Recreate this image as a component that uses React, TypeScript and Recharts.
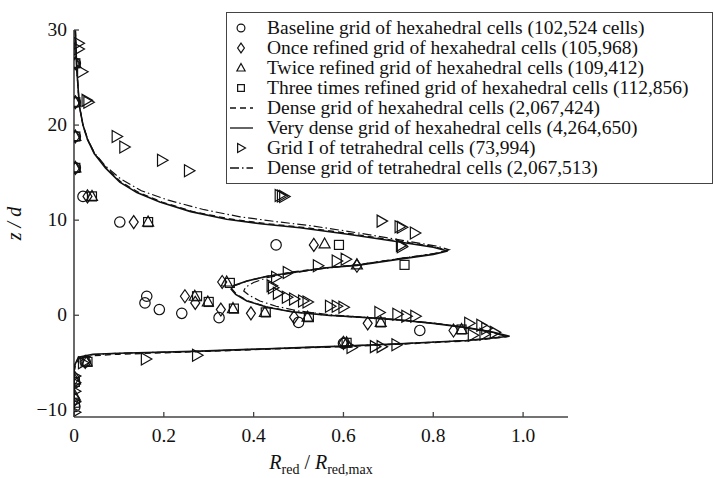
import React from "react";
import { ScatterChart, Scatter, XAxis, YAxis, Legend, Label } from "recharts";

type Pt = [number, number];

const xTicks = [0, 0.2, 0.4, 0.6, 0.8, 1.0];
const zTicks = [-10, 0, 10, 20, 30];

const legendLabels = [
   "Baseline grid of hexahedral cells (102,524 cells)",
   "Once refined grid of hexahedral cells (105,968)",
   "Twice refined grid of hexahedral cells (109,412)",
   "Three times refined grid of hexahedral cells (112,856)",
   "Dense grid of hexahedral cells (2,067,424)",
   "Very dense grid of hexahedral cells (4,264,650)",
   "Grid I of tetrahedral cells (73,994)",
   "Dense grid of tetrahedral cells (2,067,513)",
];

// markers, [R_red/R_red,max, z/d]
const baseline: Pt[] = [
   [0.003, 26.5], [0.003, 22.4], [0.003, 18.8], [0.003, 15.5], [0.02, 12.5],
   [0.102, 9.8], [0.45, 7.4], [0.162, 2.0], [0.158, 1.3], [0.19, 0.6],
   [0.24, 0.2], [0.323, -0.25], [0.5, -0.75], [0.77, -1.6], [0.6, -2.95],
   [0.025, -4.9], [0.002, -7.1], [0.002, -9.6],
];
const onceRefined: Pt[] = [
   [0.003, 26.5], [0.003, 22.4], [0.003, 18.8], [0.003, 15.5], [0.03, 12.5],
   [0.133, 9.8], [0.534, 7.4], [0.63, 5.2], [0.33, 3.5], [0.247, 2.0],
   [0.27, 1.3], [0.327, 0.6], [0.394, 0.2], [0.49, -0.2], [0.654, -0.85],
   [0.845, -1.6], [0.6, -2.9], [0.025, -4.9], [0.002, -6.6], [0.002, -8.8],
];
const twiceRefined: Pt[] = [
   [0.003, 26.5], [0.003, 22.4], [0.003, 18.8], [0.003, 15.5], [0.04, 12.5],
   [0.165, 9.8], [0.558, 7.5], [0.63, 5.3], [0.34, 3.5], [0.269, 2.0],
   [0.298, 1.4], [0.354, 0.7], [0.425, 0.3], [0.52, -0.2], [0.683, -0.75],
   [0.863, -1.5], [0.607, -2.9], [0.028, -4.9], [0.002, -6.8], [0.002, -8.5],
];
const threeTimes: Pt[] = [
   [0.003, 26.5], [0.003, 22.4], [0.003, 18.8], [0.003, 15.5], [0.04, 12.5],
   [0.165, 9.8], [0.59, 7.4], [0.736, 5.3], [0.347, 3.4], [0.274, 2.0],
   [0.3, 1.4], [0.356, 0.7], [0.427, 0.3], [0.523, -0.2], [0.683, -0.75],
   [0.863, -1.5], [0.607, -2.9], [0.03, -4.9], [0.002, -7.0], [0.002, -9.2],
];
const gridTetra: Pt[] = [
   [0.01, 28.6], [0.01, 28.0], [0.018, 25.6], [0.028, 22.6], [0.032, 22.4],
   [0.095, 18.8], [0.112, 17.7], [0.196, 16.3], [0.256, 15.2], [0.458, 12.6],
   [0.463, 12.55], [0.468, 12.5], [0.685, 9.9], [0.725, 9.3], [0.73, 9.25],
   [0.759, 8.65], [0.728, 7.35], [0.73, 7.2], [0.605, 5.9], [0.585, 5.7],
   [0.543, 5.2], [0.476, 4.5], [0.45, 4.0], [0.44, 3.1], [0.443, 2.9],
   [0.454, 2.3], [0.474, 1.9], [0.49, 1.7], [0.51, 1.5], [0.52, 1.4],
   [0.57, 0.95], [0.585, 0.95], [0.6, 0.85], [0.68, 0.3], [0.72, 0.1],
   [0.74, -0.1], [0.76, -0.1], [0.88, -0.85], [0.907, -1.05], [0.918, -1.4],
   [0.937, -1.8], [0.888, -2.1], [0.914, -2.0], [0.718, -3.1], [0.685, -3.3],
   [0.67, -3.3], [0.618, -3.4], [0.274, -4.2], [0.16, -4.6], [0.02, -5.0],
   [0.002, -6.4], [0.002, -7.1], [0.002, -8.0], [0.002, -9.1], [0.002, -10.2],
];

// profiles, traced top to bottom
const veryDense: Pt[] = [
   [0.003, 30], [0.006, 26], [0.012, 22], [0.02, 20], [0.03, 18.5],
   [0.045, 17], [0.07, 15.5], [0.102, 14], [0.14, 12.9], [0.191, 11.9],
   [0.26, 10.9], [0.34, 10.1], [0.42, 9.6], [0.503, 9.2], [0.614, 8.5],
   [0.725, 7.7], [0.8, 7.15], [0.832, 6.75], [0.8, 6.4], [0.725, 5.9],
   [0.63, 5.25], [0.563, 5.0], [0.487, 4.5], [0.43, 4.1], [0.385, 3.6],
   [0.355, 3.1], [0.35, 2.75], [0.36, 2.2], [0.385, 1.5], [0.43, 0.85],
   [0.487, 0.35], [0.563, 0.0], [0.636, -0.2], [0.725, -0.5], [0.8, -0.85],
   [0.874, -1.3], [0.93, -1.75], [0.97, -2.2], [0.932, -2.4], [0.874, -2.65],
   [0.725, -3.0], [0.6, -3.25], [0.503, -3.4], [0.265, -3.8], [0.1, -4.0],
   [0.042, -4.1], [0.01, -4.4], [0.002, -5.2], [0, -6], [0, -10.7],
];
const denseHexa: Pt[] = [
   [0.003, 30], [0.006, 26], [0.012, 22], [0.02, 20], [0.03, 18.5],
   [0.046, 17], [0.072, 15.5], [0.105, 14], [0.145, 12.9], [0.196, 11.9],
   [0.265, 10.9], [0.345, 10.15], [0.425, 9.65], [0.51, 9.25], [0.62, 8.55],
   [0.73, 7.75], [0.805, 7.2], [0.83, 6.8], [0.8, 6.45], [0.725, 5.95],
   [0.63, 5.3], [0.563, 5.0], [0.487, 4.55], [0.43, 4.1], [0.385, 3.6],
   [0.357, 3.1], [0.352, 2.75], [0.362, 2.2], [0.387, 1.5], [0.432, 0.85],
   [0.49, 0.35], [0.565, 0.0], [0.64, -0.22], [0.73, -0.52], [0.805, -0.87],
   [0.875, -1.32], [0.93, -1.78], [0.965, -2.25], [0.93, -2.45], [0.874, -2.7],
   [0.725, -3.05], [0.6, -3.3], [0.503, -3.45], [0.265, -3.85], [0.1, -4.1],
   [0.042, -4.25], [0.012, -4.55], [0.003, -5.3], [0, -6], [0, -10.7],
];
const denseTetra: Pt[] = [
   [0.003, 30], [0.006, 26], [0.012, 22], [0.02, 20], [0.03, 18.6],
   [0.045, 17.1], [0.07, 15.7], [0.105, 14.3], [0.15, 13.1], [0.21, 12.1],
   [0.29, 11.1], [0.37, 10.35], [0.45, 9.85], [0.53, 9.4], [0.64, 8.6],
   [0.74, 7.8], [0.81, 7.25], [0.835, 6.9], [0.81, 6.55], [0.73, 6.0],
   [0.64, 5.35], [0.56, 4.95], [0.48, 4.4], [0.43, 3.95], [0.4, 3.45],
   [0.382, 2.95], [0.378, 2.55], [0.39, 2.1], [0.414, 1.5], [0.45, 0.95],
   [0.5, 0.45], [0.57, 0.05], [0.64, -0.2], [0.73, -0.5], [0.805, -0.85],
   [0.875, -1.3], [0.925, -1.75], [0.96, -2.2], [0.925, -2.42], [0.874, -2.65],
   [0.725, -3.0], [0.6, -3.25], [0.503, -3.4], [0.265, -3.8], [0.1, -4.0],
   [0.042, -4.15], [0.01, -4.45], [0.002, -5.2], [0, -6], [0, -10.7],
];

const toRows = (pts: Pt[]) => pts.map(([x, z]) => ({ x, z }));

const FONT = "'Liberation Serif', 'Times New Roman', serif";
const INK = "#111";

type Kind = "circle" | "diamond" | "triangle" | "square" | "right";

function Marker({ cx, cy, kind, s = 1 }: { cx: number; cy: number; kind: Kind; s?: number }) {
   if (cx == null || cy == null) return null;
   const st = { fill: "none", stroke: INK, strokeWidth: 1.2 };
   if (kind === "circle") return <circle cx={cx} cy={cy} r={5.2 * s} {...st} />;
   if (kind === "square")
      return <rect x={cx - 4.5 * s} y={cy - 4.5 * s} width={9 * s} height={9 * s} {...st} />;
   let pts = "";
   if (kind === "diamond")
      pts = `${cx},${cy - 6.5 * s} ${cx + 4.5 * s},${cy} ${cx},${cy + 6.5 * s} ${cx - 4.5 * s},${cy}`;
   if (kind === "triangle")
      pts = `${cx},${cy - 6 * s} ${cx + 5.5 * s},${cy + 4 * s} ${cx - 5.5 * s},${cy + 4 * s}`;
   if (kind === "right")
      pts = `${cx - 4.5 * s},${cy - 6 * s} ${cx + 6 * s},${cy} ${cx - 4.5 * s},${cy + 6 * s}`;
   return <polygon points={pts} {...st} />;
}

const markerKinds: Kind[] = ["circle", "diamond", "triangle", "square"];
const DASH = "6 4";
const DASHDOT = "9 3 1.5 3";

function LegendBox() {
   const rows = legendLabels.map((label, i) => {
      let sym: React.ReactNode = null;
      if (i < 4) sym = <Marker cx={14} cy={10} kind={markerKinds[i]} s={0.75} />;
      if (i === 6) sym = <Marker cx={14} cy={10} kind="right" s={0.75} />;
      if (i === 4 || i === 5 || i === 7)
         sym = (
            <line
               x1={3}
               x2={26}
               y1={10}
               y2={10}
               stroke={INK}
               strokeWidth={1.3}
               strokeDasharray={i === 4 ? DASH : i === 7 ? DASHDOT : undefined}
            />
         );
      return (
         <div key={label} style={{ position: "absolute", left: 0, top: 5 + i * 20, height: 20, width: 480 }}>
            <svg width={30} height={20} style={{ position: "absolute", left: 0, top: 0 }}>
               {sym}
            </svg>
            <span
               style={{
                  position: "absolute",
                  left: 40,
                  top: 0,
                  lineHeight: "20px",
                  fontSize: 19.5,
                  fontFamily: FONT,
                  color: INK,
                  whiteSpace: "nowrap",
               }}
            >
               {label}
            </span>
         </div>
      );
   });
   return (
      <div
         style={{
            position: "relative",
            width: 487,
            height: 172,
            boxSizing: "border-box",
            border: "1.5px solid #444",
            background: "#fff",
         }}
      >
         {rows}
      </div>
   );
}

function XTick(props: any) {
   const { x, y, payload } = props;
   const v = payload.value as number;
   return (
      <g>
         <line x1={x} x2={x} y1={y} y2={y - 5} stroke="#444" strokeWidth={1.3} />
         <text x={x} y={y + 25} textAnchor="middle" fontFamily={FONT} fontSize={19.5} fill={INK}>
            {v === 0 ? "0" : v.toFixed(1)}
         </text>
      </g>
   );
}

function YTick(props: any) {
   const { x, y, payload } = props;
   const v = payload.value as number;
   return (
      <g>
         <line x1={x} x2={x + 5} y1={y} y2={y} stroke="#444" strokeWidth={1.3} />
         <text x={x - 7} y={y + 6} textAnchor="end" fontFamily={FONT} fontSize={19.5} fill={INK}>
            {String(v).replace("-", "\u2212")}
         </text>
      </g>
   );
}

const none = () => <g />;

export default function App() {
   return (
      <div style={{ position: "absolute", left: 0, top: 0, width: 714, height: 478, background: "#fff" }}>
         <ScatterChart
            width={714}
            height={478}
            margin={{ top: 30, right: 146, bottom: 11, left: 14 }}
         >
            <XAxis
               type="number"
               dataKey="x"
               domain={[0, 1.1]}
               ticks={xTicks}
               allowDataOverflow
               height={50}
               tickSize={0}
               tickMargin={0}
               tickLine={false}
               tick={<XTick />}
               axisLine={{ stroke: "#444", strokeWidth: 1.6 }}
            >
               <Label
                  content={(p: any) => {
                     const vb = p.viewBox || {};
                     const cx = vb.x + vb.width / 2;
                     return (
                        <text x={cx} y={469} textAnchor="middle" fontFamily={FONT} fontSize={20} fill={INK}>
                           <tspan fontStyle="italic">R</tspan>
                           <tspan fontSize={14} dy={5}>red</tspan>
                           <tspan dy={-5}> / </tspan>
                           <tspan fontStyle="italic">R</tspan>
                           <tspan fontSize={14} dy={5}>red,max</tspan>
                        </text>
                     );
                  }}
               />
            </XAxis>
            <YAxis
               type="number"
               dataKey="z"
               domain={[-10.7, 30]}
               ticks={zTicks}
               allowDataOverflow
               width={60}
               tickSize={0}
               tickMargin={0}
               tickLine={false}
               tick={<YTick />}
               axisLine={{ stroke: "#444", strokeWidth: 1.6 }}
            >
               <Label
                  content={(p: any) => {
                     const vb = p.viewBox || {};
                     const cy = vb.y + vb.height / 2;
                     return (
                        <text
                           x={21}
                           y={cy}
                           transform={`rotate(-90 21 ${cy})`}
                           textAnchor="middle"
                           fontFamily={FONT}
                           fontSize={20}
                           fontStyle="italic"
                           fill={INK}
                        >
                           z / d
                        </text>
                     );
                  }}
               />
            </YAxis>
            <Legend
               layout="vertical"
               align="center"
               verticalAlign="middle"
               wrapperStyle={{ left: 226, top: 12, width: 487 }}
               content={() => <LegendBox />}
            />
            <Scatter
               data={toRows(denseTetra)}
               fill={INK}
               shape={none}
               line={{ stroke: INK, strokeWidth: 1.2, strokeDasharray: DASHDOT }}
               isAnimationActive={false}
            />
            <Scatter
               data={toRows(denseHexa)}
               fill={INK}
               shape={none}
               line={{ stroke: INK, strokeWidth: 1.3, strokeDasharray: DASH }}
               isAnimationActive={false}
            />
            <Scatter
               data={toRows(veryDense)}
               fill={INK}
               shape={none}
               line={{ stroke: INK, strokeWidth: 1.6 }}
               isAnimationActive={false}
            />
            <Scatter
               data={toRows(baseline)}
               shape={(p: any) => <Marker cx={p.cx} cy={p.cy} kind="circle" />}
               isAnimationActive={false}
            />
            <Scatter
               data={toRows(onceRefined)}
               shape={(p: any) => <Marker cx={p.cx} cy={p.cy} kind="diamond" />}
               isAnimationActive={false}
            />
            <Scatter
               data={toRows(twiceRefined)}
               shape={(p: any) => <Marker cx={p.cx} cy={p.cy} kind="triangle" />}
               isAnimationActive={false}
            />
            <Scatter
               data={toRows(threeTimes)}
               shape={(p: any) => <Marker cx={p.cx} cy={p.cy} kind="square" />}
               isAnimationActive={false}
            />
            <Scatter
               data={toRows(gridTetra)}
               shape={(p: any) => <Marker cx={p.cx} cy={p.cy} kind="right" />}
               isAnimationActive={false}
            />
         </ScatterChart>
      </div>
   );
}
